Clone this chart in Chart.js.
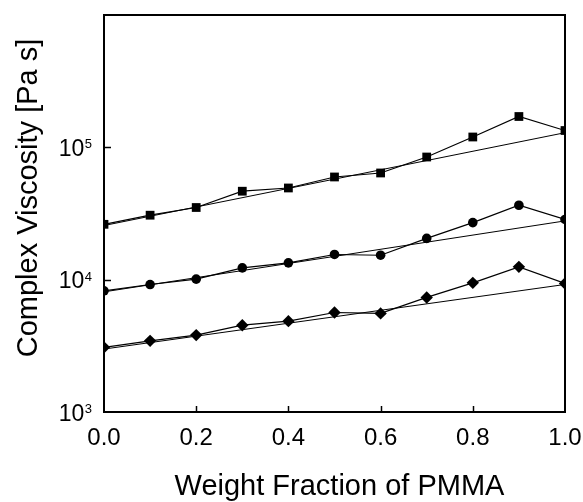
<!DOCTYPE html>
<html>
<head>
<meta charset="utf-8">
<script src="https://cdn.jsdelivr.net/npm/chart.js@4.4.1/dist/chart.umd.min.js"></script>
<style>
  html, body { margin: 0; padding: 0; background: #fff; }
  .chart-container { position: relative; width: 583px; height: 502px; }
</style>
</head>
<body>
<div class="chart-container">
  <canvas id="chart"></canvas>
</div>
<script>
const fractions = [0, 0.1, 0.2, 0.3, 0.4, 0.5, 0.6, 0.7, 0.8, 0.9, 1.0];
const squareVisc = [26200, 30700, 35100, 46600, 49300, 59700, 64000, 84500, 119700, 171000, 134000];
const circleVisc = [8240, 9190, 10090, 12280, 13400, 15500, 15300, 20500, 27000, 36500, 28500];
const diamondVisc = [3080, 3450, 3810, 4530, 4860, 5650, 5560, 7340, 9460, 12500, 9360];

// straight fit lines on the log scale (end points only)
const fitX = [0, 1];
const squareFit = [25650, 129000];
const circleFit = [8090, 27800];
const diamondFit = [2990, 9200];

const yTicks = [1e3, 1e4, 1e5];
const yTickExponents = ['3', '4', '5'];
const xTickMarks = [0.2, 0.4, 0.6, 0.8];
const yTickMarks = [1e4, 1e5];
const xTitle = 'Weight Fraction of PMMA';
const yTitle = 'Complex Viscosity [Pa s]';

const FONT = 'Arial, "Liberation Sans", sans-serif';

const toPoints = (xs, ys) => xs.map((x, i) => ({ x, y: ys[i] }));

const fitStyle = {
  borderColor: '#000',
  borderWidth: 1,
  pointRadius: 0,
  fill: false,
  tension: 0
};
const markStyle = {
  borderColor: '#000',
  backgroundColor: '#000',
  borderWidth: 1.2,
  pointBorderWidth: 0,
  fill: false,
  tension: 0
};

// frame, inward tick marks, superscript y labels and axis titles
const framePlugin = {
  id: 'frame',
  afterDraw(chart) {
    const { ctx, chartArea: a, scales } = chart;
    ctx.save();
    ctx.strokeStyle = '#000';
    ctx.fillStyle = '#000';
    ctx.lineWidth = 1.5;
    xTickMarks.forEach(v => {
      const px = Math.round(scales.x.getPixelForValue(v)) + 0.5;
      ctx.beginPath();
      ctx.moveTo(px, a.bottom);
      ctx.lineTo(px, a.bottom - 6);
      ctx.stroke();
    });
    yTickMarks.forEach(v => {
      const py = Math.round(scales.y.getPixelForValue(v)) + 0.5;
      ctx.beginPath();
      ctx.moveTo(a.left, py);
      ctx.lineTo(a.left + 7, py);
      ctx.stroke();
    });
    ctx.lineWidth = 2;
    ctx.strokeRect(a.left, a.top, a.right - a.left, a.bottom - a.top);

    // y tick labels as 10 with a raised exponent
    ctx.textBaseline = 'alphabetic';
    yTicks.forEach((v, i) => {
      const py = scales.y.getPixelForValue(v);
      const right = a.left - 12;
      ctx.font = `13px ${FONT}`;
      ctx.textAlign = 'right';
      ctx.fillText(yTickExponents[i], right, py + 1);
      const expW = ctx.measureText(yTickExponents[i]).width;
      ctx.font = `23px ${FONT}`;
      ctx.fillText('10', right - expW - 0.5, py + 8.5);
    });

    // axis titles
    ctx.font = `29px ${FONT}`;
    ctx.textAlign = 'center';
    ctx.fillText(xTitle, (a.left + a.right) / 2 + 5, 495);
    ctx.translate(37, 198);
    ctx.rotate(-Math.PI / 2);
    ctx.fillText(yTitle, 0, 0);
    ctx.restore();
  }
};

new Chart(document.getElementById('chart').getContext('2d'), {
  type: 'line',
  data: {
    datasets: [
      { ...fitStyle, data: toPoints(fitX, squareFit) },
      { ...fitStyle, data: toPoints(fitX, circleFit) },
      { ...fitStyle, data: toPoints(fitX, diamondFit) },
      { ...markStyle, data: toPoints(fractions, squareVisc), pointStyle: 'rect', pointRadius: 6.2 },
      { ...markStyle, data: toPoints(fractions, circleVisc), pointStyle: 'circle', pointRadius: 4.8 },
      { ...markStyle, data: toPoints(fractions, diamondVisc), pointStyle: 'rectRot', pointRadius: 6.2 }
    ]
  },
  options: {
    responsive: true,
    maintainAspectRatio: false,
    animation: false,
    layout: { padding: { top: 15, right: 18, left: 0, bottom: 0 } },
    plugins: {
      legend: { display: false },
      tooltip: { enabled: false }
    },
    elements: { point: { hoverRadius: 6 } },
    scales: {
      x: {
        type: 'linear',
        min: 0,
        max: 1,
        afterFit: (scale) => {
          scale.height = 90;
          scale.paddingLeft = 0;
          scale.paddingRight = 0;
        },
        grid: { display: false, drawTicks: false },
        border: { display: false },
        ticks: {
          stepSize: 0.2,
          padding: 12,
          color: '#000',
          font: { family: FONT, size: 24 },
          callback: (v) => v.toFixed(1)
        }
      },
      y: {
        type: 'logarithmic',
        min: 1000,
        max: 1e6,
        afterFit: (scale) => { scale.width = 104; },
        grid: { display: false, drawTicks: false },
        border: { display: false },
        ticks: { display: false }
      }
    }
  },
  plugins: [framePlugin]
});
</script>
</body>
</html>
